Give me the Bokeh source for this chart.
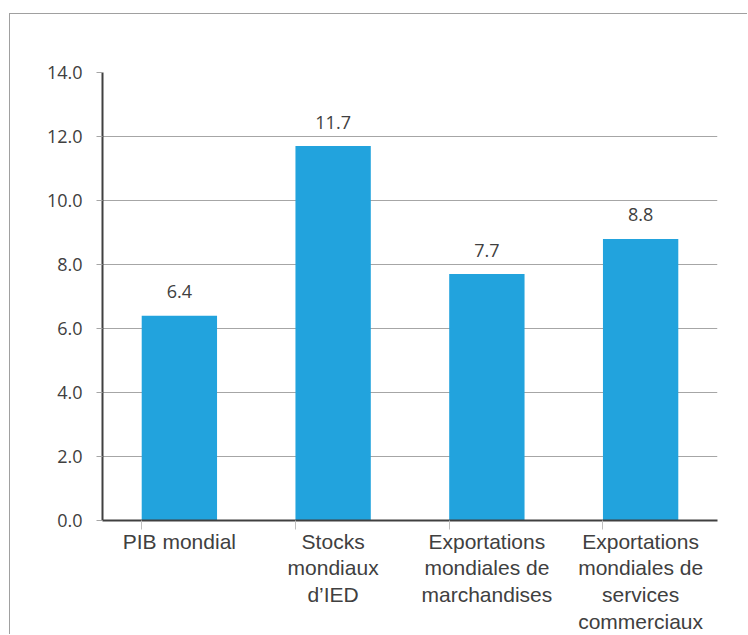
from bokeh.plotting import figure
from bokeh.models import Range1d, FixedTicker, LinearAxis, NumeralTickFormatter, ColumnDataSource
from bokeh.core.properties import value
from bokeh.embed import file_html
from bokeh.resources import INLINE

categories = ["PIB mondial", "Stocks\nmondiaux\nd’IED", "Exportations\nmondiales de\nmarchandises",
              "Exportations\nmondiales de\nservices\ncommerciaux"]
values = [6.4, 11.7, 7.7, 8.8]
y_ticks = [0, 2, 4, 6, 8, 10, 12, 14]

BAR_W = 0.49
centers = [i + 0.5 for i in range(len(categories))]
src = ColumnDataSource(dict(x=centers, top=values, lbl=[f"{v:.1f}" for v in values]))

p = figure(width=738, height=621, output_backend="svg", toolbar_location=None,
           x_range=Range1d(0, len(categories)), y_range=Range1d(0, 14),
           min_border_left=92, min_border_right=31, min_border_top=58, min_border_bottom=113,
           x_axis_location=None, y_axis_location=None)
p.styles = {"margin-left": "9px", "margin-top": "13px",
            "border-left": "1px solid #a0a0a0", "border-top": "1px solid #a0a0a0"}
p.outline_line_color = None
p.background_fill_color = "white"
p.border_fill_color = "white"

p.vbar(x="x", top="top", width=BAR_W, bottom=0, source=src, fill_color="#22A3DD", line_color=None)
p.text(x="x", y="top", text="lbl", source=src, text_align="center", text_baseline="alphabetic",
       y_offset=-24, text_font=value("Open Sans"), text_font_size="18px", text_color="#404040")

# y axis
yax = LinearAxis(ticker=FixedTicker(ticks=y_ticks), formatter=NumeralTickFormatter(format="0.0"))
yax.axis_line_color = "#404040"
yax.axis_line_width = 2
yax.major_tick_line_color = "#a6a6a6"
yax.major_tick_out = 6
yax.major_tick_in = 0
yax.minor_tick_line_color = None
yax.major_label_standoff = 14
yax.major_label_text_font = "Open Sans"
yax.major_label_text_font_size = "18px"
yax.major_label_text_color = "#404040"
p.add_layout(yax, "left")

# x axis: line, small tick marks (minor ticks) and category labels
lax = LinearAxis(ticker=FixedTicker(ticks=centers, minor_ticks=[c - BAR_W / 2 for c in centers]),
                 major_label_overrides={c: t for c, t in zip(centers, categories)})
lax.axis_line_color = "#404040"
lax.axis_line_width = 2
lax.major_tick_line_color = None
lax.major_tick_out = 0
lax.major_tick_in = 0
lax.minor_tick_line_color = "#bfbfbf"
lax.minor_tick_out = 9
lax.minor_tick_in = 0
lax.major_label_standoff = 0
lax.major_label_text_font = "Liberation Sans"
lax.major_label_text_font_size = "21px"
lax.major_label_text_color = "#404040"
lax.major_label_text_line_height = 1.16
p.add_layout(lax, "below")

p.ygrid.ticker = FixedTicker(ticks=y_ticks)
p.ygrid.grid_line_color = "#a6a6a6"
p.ygrid.grid_line_width = 1
p.xgrid.grid_line_color = None

open("out.html", "w").write(file_html(p, INLINE))
